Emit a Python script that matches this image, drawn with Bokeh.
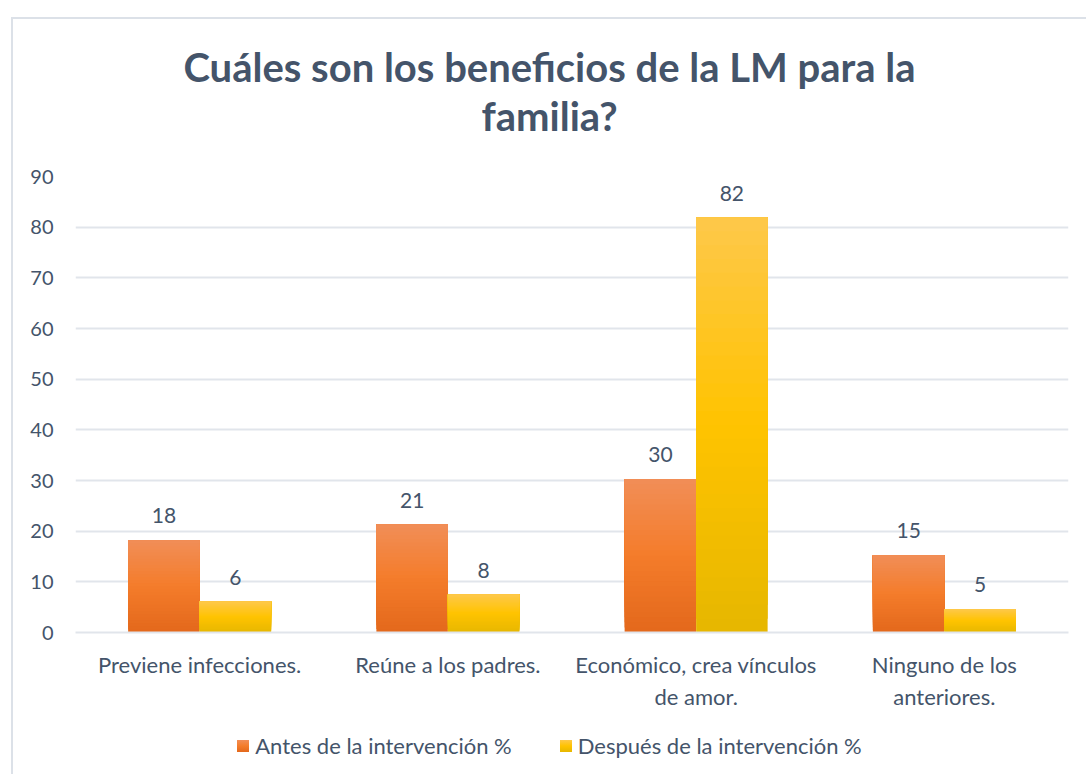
from bokeh.plotting import figure
from bokeh.layouts import column
from bokeh.models import (ColumnDataSource, FactorRange, Range1d, FixedTicker, Div)
from bokeh.transform import dodge
from bokeh.core.properties import value
from bokeh.embed import file_html
from bokeh.resources import INLINE

# ---- data ----
categories = ["Previene infecciones.", "Reúne a los padres.",
              "Económico, crea vínculos\nde amor.", "Ninguno de los\nanteriores."]
antes = [18.2, 21.3, 30.3, 15.2]
despues = [6.1, 7.5, 81.9, 4.6]
antes_labels = ["18", "21", "30", "15"]
despues_labels = ["6", "8", "82", "5"]
series_names = ["Antes de la intervención %", "Después de la intervención %"]
y_ticks = [0, 10, 20, 30, 40, 50, 60, 70, 80, 90]
title_lines = ["Cuáles son los beneficios de la LM para la", "familia?"]

FONT = "Lato"
TXT = "#44546A"
GRID = "#E1E5EB"
BORDER = "2px solid #DCE1E8"

# gradient stops (bottom, middle, top)
orange_stops = [(0xE3, 0x68, 0x1C), (0xF4, 0x7C, 0x2A), (0xF1, 0x8E, 0x58)]
yellow_stops = [(0xE6, 0xB7, 0x00), (0xFF, 0xC3, 0x00), (0xFE, 0xC8, 0x4A)]
N = 30
BW = 0.288
OFF = 0.144


def hexc(c):
    return "#%02X%02X%02X" % tuple(c)


def interp(stops, t):
    if t <= 0.5:
        a, b, u = stops[0], stops[1], t / 0.5
    else:
        a, b, u = stops[1], stops[2], (t - 0.5) / 0.5
    return hexc([round(a[i] + (b[i] - a[i]) * u) for i in range(3)])


def slices(vals, stops):
    # overlapping slices (each reaches the bar top) -> smooth vertical gradient
    d = dict(cat=[], bottom=[], top=[], color=[])
    for k in range(N):
        for c, v in zip(categories, vals):
            d["cat"].append(c)
            d["bottom"].append(v * k / N)
            d["top"].append(v)
            d["color"].append(interp(stops, (k + 0.5) / N))
    return ColumnDataSource(d)


title_div = Div(
    text=('<div style="margin:0;padding:24px 0 0 10px;width:1063px;text-align:center;'
          'font-family:Lato;font-weight:bold;font-size:40px;line-height:49px;'
          'color:%s;white-space:nowrap">%s<br>%s</div>') % (TXT, title_lines[0], title_lines[1]),
    width=1073, height=130, margin=0)

p = figure(x_range=FactorRange(*categories), y_range=Range1d(0, 90),
           frame_width=993, frame_height=456, output_backend="svg",
           toolbar_location=None,
           min_border_left=62, min_border_right=18, min_border_top=27,
           min_border_bottom=88)
p.outline_line_color = None
p.background_fill_color = "white"
p.border_fill_color = "white"

src_a = slices(antes, orange_stops)
src_d = slices(despues, yellow_stops)
ra = p.vbar(x=dodge("cat", -OFF, range=p.x_range), bottom="bottom", top="top",
            width=BW, source=src_a, fill_color="color", line_color=None)
rd = p.vbar(x=dodge("cat", OFF, range=p.x_range), bottom="bottom", top="top",
            width=BW, source=src_d, fill_color="color", line_color=None)

lab_a = ColumnDataSource(dict(cat=categories, val=antes, lbl=antes_labels))
lab_d = ColumnDataSource(dict(cat=categories, val=despues, lbl=despues_labels))
for s, o in ((lab_a, -OFF), (lab_d, OFF)):
    p.text(x=dodge("cat", o, range=p.x_range), y="val", text="lbl", source=s,
           text_align="center", text_baseline="bottom", y_offset=-17,
           text_font=value(FONT), text_font_size="21px", text_color=TXT)

# axes
p.yaxis.ticker = FixedTicker(ticks=y_ticks)
p.yaxis.axis_line_color = None
p.yaxis.major_tick_line_color = None
p.yaxis.minor_tick_line_color = None
p.yaxis.major_tick_out = 0
p.yaxis.major_label_standoff = 22
p.yaxis.major_label_text_font = FONT
p.yaxis.major_label_text_font_size = "20px"
p.yaxis.major_label_text_color = TXT

p.xaxis.axis_line_color = GRID
p.xaxis.axis_line_width = 2
p.xaxis.major_tick_line_color = None
p.xaxis.minor_tick_line_color = None
p.xaxis.major_tick_out = 0
p.xaxis.major_label_standoff = 18
p.xaxis.major_label_text_font = FONT
p.xaxis.major_label_text_font_size = "22px"
p.xaxis.major_label_text_color = TXT

p.xgrid.grid_line_color = None
p.ygrid.grid_line_color = GRID
p.ygrid.grid_line_width = 2

# legend (HTML, below the plot)
def legend_item(name, stops, first):
    grad = "linear-gradient(to top, %s, %s, %s)" % tuple(hexc(s) for s in stops)
    ml = "0" if first else "48px"
    return ('<span style="margin-left:%s;white-space:nowrap">'
            '<span style="display:inline-block;width:12px;height:12px;'
            'background:%s;vertical-align:middle;margin-right:6px"></span>'
            '<span style="vertical-align:middle">%s</span></span>') % (ml, grad, name)


legend_div = Div(
    text=('<div style="margin:0;padding:10px 0 0 18px;width:1055px;text-align:center;'
          'font-family:Lato;font-size:22px;line-height:28px;color:%s;white-space:nowrap">'
          '%s%s</div>') % (TXT, legend_item(series_names[0], orange_stops, True),
                           legend_item(series_names[1], yellow_stops, False)),
    width=1073, height=54, margin=0)

layout = column(title_div, p, legend_div, spacing=0, margin=(17, 0, 0, 11),
                styles={"border-left": BORDER, "border-top": BORDER})

open("out.html", "w").write(file_html(layout, INLINE))
